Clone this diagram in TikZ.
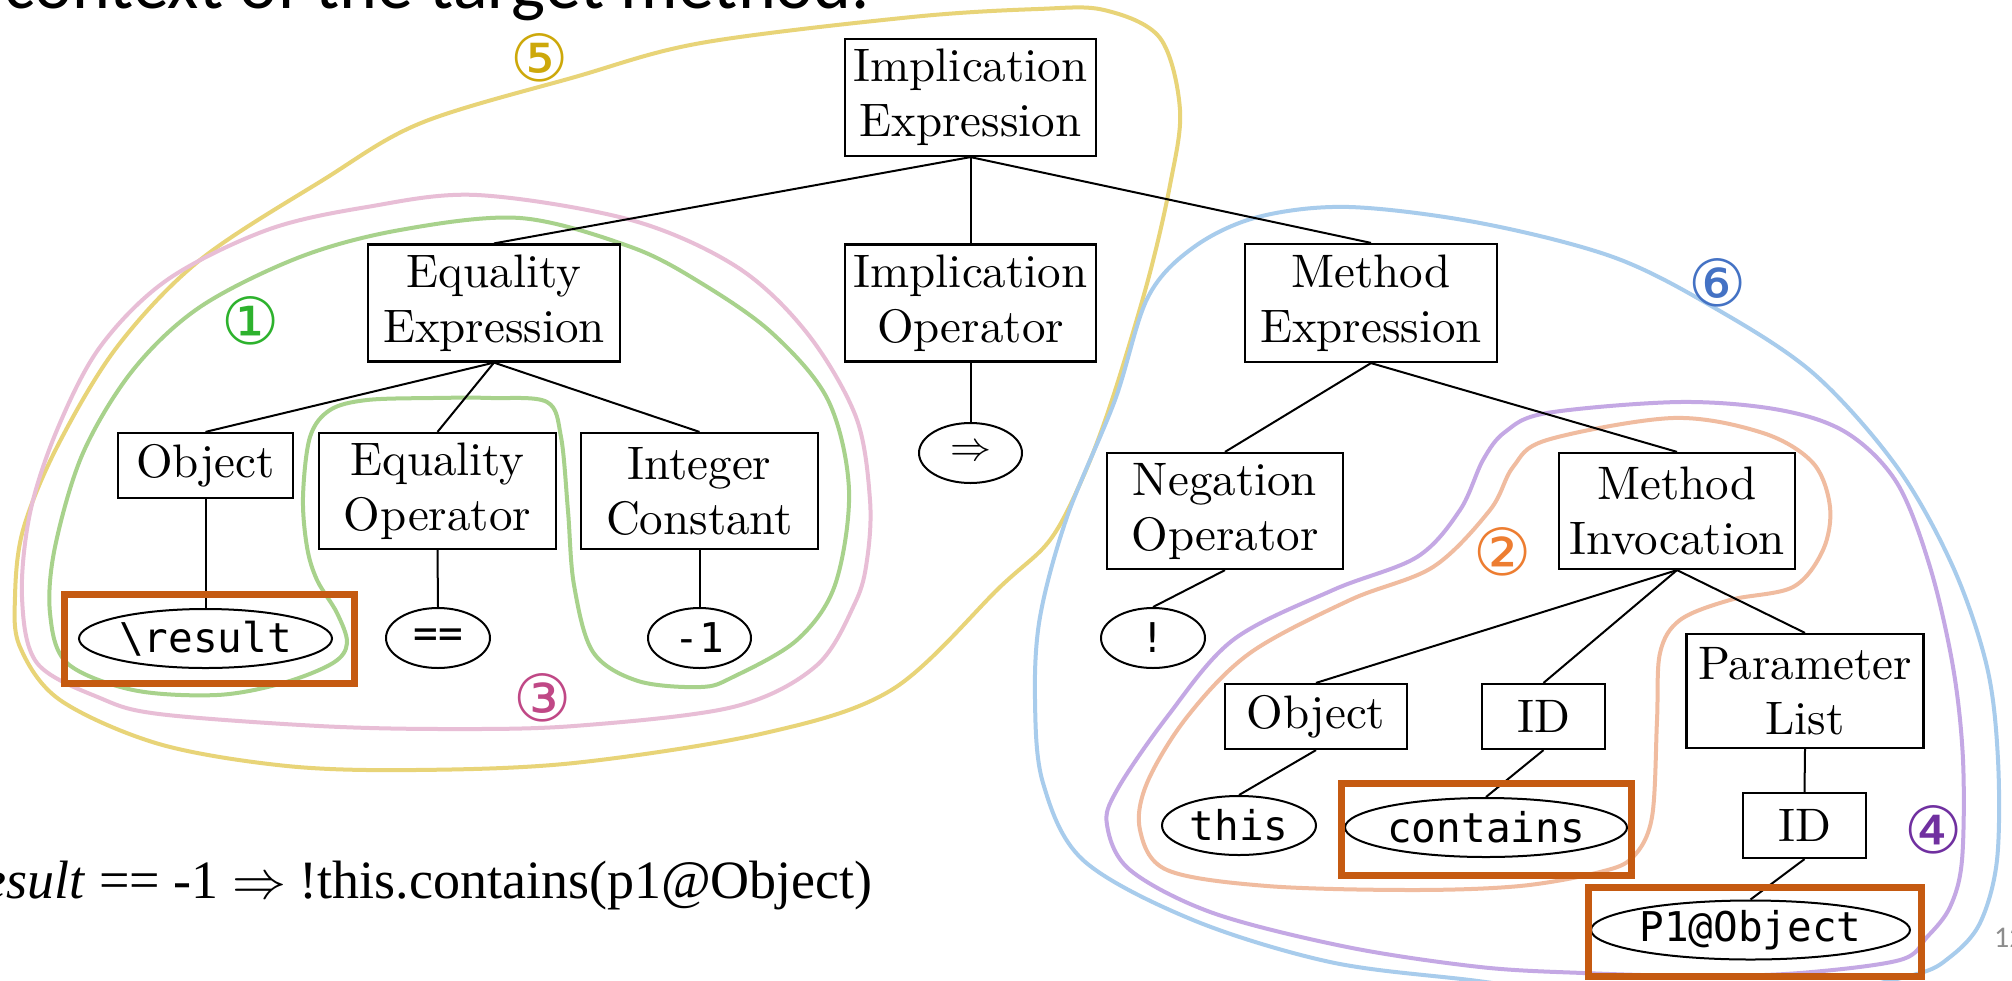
\documentclass[tikz,border=0pt]{standalone}
\usepackage{fix-cm}
\usepackage{fontspec}
\usetikzlibrary{shapes.geometric}
\newfontfamily\boxfont{lmroman10-regular.otf}
\newfontfamily\monofont{DejaVu Sans Mono}
\newfontfamily\circfont{DejaVu Sans}
\newfontfamily\titlefont{Carlito}
\newfontfamily\formulafont{Liberation Serif}
\definecolor{hYel}{RGB}{232,212,120}
\definecolor{hPink}{RGB}{232,190,214}
\definecolor{hGreen}{RGB}{168,210,140}
\definecolor{hSal}{RGB}{240,188,160}
\definecolor{hPur}{RGB}{196,168,228}
\definecolor{hBlue}{RGB}{168,204,236}
\definecolor{nYel}{RGB}{205,168,10}
\definecolor{nGreen}{RGB}{45,178,45}
\definecolor{nPink}{RGB}{192,72,134}
\definecolor{nBlue}{RGB}{68,114,196}
\definecolor{nOr}{RGB}{237,125,49}
\definecolor{nPur}{RGB}{112,48,160}
\definecolor{hlOr}{RGB}{197,90,17}
\definecolor{pgGray}{RGB}{140,140,140}
\tikzset{
  tbox/.style={draw, line width=2.2pt, fill=white, inner sep=0pt, align=center,
    font=\boxfont\fontsize{47}{55}\selectfont},
  tell/.style={draw, ellipse, line width=2pt, fill=white, inner sep=0pt,
    font=\monofont\fontsize{41}{41}\selectfont},
  treeline/.style={line width=2pt},
  hull/.style={line width=4pt, line join=round},
  hlbox/.style={draw=hlOr, line width=7pt},
  circnum/.style={font=\circfont\fontsize{65}{65}\selectfont, inner sep=0pt},
}
\begin{document}
\begin{tikzpicture}[x=1pt,y=-1pt]
\useasboundingbox (0,0) rectangle (2012,980);
\fill[white] (0,0) rectangle (2012,980);

% title and page number (cut by the page edge)
\node[anchor=base east, inner sep=0pt, font=\titlefont\fontsize{72}{72}\selectfont] (title) at (870,8) {context of the target method.};
\node[anchor=base west, inner sep=0pt, text=pgGray, font=\titlefont\fontsize{30}{30}\selectfont] (pageno) at (1994,947) {12};

% hulls
\draw[hull, draw=hYel] plot[smooth cycle, tension=0.55] coordinates {(1104,10) (1160,38) (1180,110) (1170,185) (1148,280) (1112,400) (1083,477) (1050,540) (1000,587) (893,689) (765,733) (574,763) (415,770) (287,766) (159,744) (60,700) (20,647) (15,597) (23,530) (57,447) (117,347) (200,260) (323,180) (421,123) (575,77) (701,43) (912,17) (1038,9)};
\draw[hull, draw=hPink] plot[smooth cycle, tension=0.55] coordinates {(477,195) (631,220) (737,267) (807,333) (856,417) (870,500) (867,560) (855,603) (816,666) (733,707) (574,726) (446,729) (319,726) (159,714) (100,698) (37,663) (22,597) (30,513) (57,430) (100,347) (167,280) (267,230) (367,207)};
\draw[hull, draw=hGreen] plot[smooth cycle, tension=0.55] coordinates {(520,218) (631,247) (701,283) (772,333) (828,400) (849,490) (835,585) (797,640) (733,677) (701,687) (638,681) (593,652) (574,585) (568,511) (561,437) (547,402) (491,398) (433,398) (367,400) (330,410) (310,437) (303,497) (307,547) (317,580) (337,613) (347,643) (333,663) (283,683) (217,695) (133,690) (67,663) (50,613) (55,547) (83,453) (133,370) (200,307) (300,257) (400,230)};
\draw[hull, draw=hBlue] plot[smooth cycle, tension=0.55] coordinates {(1349,207) (1480,223) (1613,257) (1713,307) (1813,373) (1897,467) (1953,567) (1987,667) (1998,760) (1997,860) (1980,923) (1950,957) (1913,975) (1800,995) (1600,995) (1470,980) (1330,962) (1193,920) (1083,860) (1043,783) (1035,700) (1040,617) (1067,517) (1115,400) (1148,297) (1194,247) (1258,217)};
\draw[hull, draw=hPur] plot[smooth cycle, tension=0.55] coordinates {(1680,402) (1780,410) (1847,433) (1897,483) (1930,567) (1953,667) (1963,760) (1962,860) (1950,907) (1927,937) (1900,960) (1800,973) (1700,976) (1583,973) (1480,967) (1347,947) (1213,913) (1130,870) (1107,825) (1117,790) (1167,717) (1233,640) (1333,590) (1417,557) (1460,510) (1483,460) (1505,432) (1547,413)};
\draw[hull, draw=hSal] plot[smooth cycle, tension=0.55] coordinates {(1673,418) (1763,433) (1813,463) (1830,507) (1823,550) (1793,587) (1730,600) (1680,620) (1660,653) (1657,720) (1652,817) (1633,857) (1600,872) (1520,886) (1413,890) (1267,886) (1167,870) (1140,830) (1147,783) (1187,717) (1250,653) (1350,600) (1433,567) (1490,510) (1513,467) (1547,440)};

% tree nodes
\node[tbox, minimum width=251pt, minimum height=117pt] (IE) at (970.5,97.5) {Implication\\Expression};
\node[tbox, minimum width=252pt, minimum height=117pt] (EE) at (494,303) {Equality\\Expression};
\node[tbox, minimum width=251pt, minimum height=117pt] (IO) at (970.5,303) {Implication\\Operator};
\node[tbox, minimum width=252pt, minimum height=118pt] (ME) at (1371,303) {Method\\Expression};
\node[tbox, minimum width=175pt, minimum height=65pt] (ObjA) at (205.5,465.5) {Object};
\node[tbox, minimum width=237pt, minimum height=116pt] (EO) at (437.5,491) {Equality\\Operator};
\node[tbox, minimum width=237pt, minimum height=116pt] (IC) at (699.5,491) {Integer\\Constant};
\node[tell, minimum width=103pt, minimum height=60pt] (impl) at (970.5,453) {$\Rightarrow$};
\node[tell, minimum width=253pt, minimum height=59pt] (res) at (205.5,638.5) {\textbackslash result};
\node[tell, minimum width=104pt, minimum height=60pt] (eq) at (438,638) {==};
\node[tell, minimum width=103pt, minimum height=60pt] (mone) at (699.5,638) {-1};
\node[tbox, minimum width=236pt, minimum height=116pt] (NO) at (1225,511) {Negation\\Operator};
\node[tbox, minimum width=236pt, minimum height=116pt] (MI) at (1677,511) {Method\\Invocation};
\node[tell, minimum width=104pt, minimum height=60pt] (bang) at (1153,638) {!};
\node[tbox, minimum width=182pt, minimum height=65pt] (ObjB) at (1316,716.5) {Object};
\node[tbox, minimum width=123pt, minimum height=65pt] (IDA) at (1543.5,716.5) {ID};
\node[tbox, minimum width=237pt, minimum height=114pt] (PL) at (1805,691) {Parameter\\List};
\node[tell, minimum width=154pt, minimum height=59pt] (this) at (1239,825.5) {this};
\node[tell, minimum width=282pt, minimum height=59pt] (cont) at (1486,827.5) {contains};
\node[tbox, minimum width=123pt, minimum height=65pt] (IDB) at (1804.5,825.5) {ID};
\node[tell, minimum width=319pt, minimum height=59pt] (pobj) at (1750.5,930) {P1@Object};

% tree edges
\draw[treeline] (IE.south) -- (EE.north);
\draw[treeline] (IE.south) -- (IO.north);
\draw[treeline] (IE.south) -- (ME.north);
\draw[treeline] (EE.south) -- (ObjA.north);
\draw[treeline] (EE.south) -- (EO.north);
\draw[treeline] (EE.south) -- (IC.north);
\draw[treeline] (IO.south) -- (impl.north);
\draw[treeline] (ObjA.south) -- (res.north);
\draw[treeline] (EO.south) -- (eq.north);
\draw[treeline] (IC.south) -- (mone.north);
\draw[treeline] (ME.south) -- (NO.north);
\draw[treeline] (ME.south) -- (MI.north);
\draw[treeline] (NO.south) -- (bang.north);
\draw[treeline] (MI.south) -- (ObjB.north);
\draw[treeline] (MI.south) -- (IDA.north);
\draw[treeline] (MI.south) -- (PL.north);
\draw[treeline] (ObjB.south) -- (this.north);
\draw[treeline] (IDA.south) -- (cont.north);
\draw[treeline] (PL.south) -- (IDB.north);
\draw[treeline] (IDB.south) -- (pobj.north);

% highlight boxes
\draw[hlbox] (64.5,594.5) rectangle (354.5,683.5);
\draw[hlbox] (1341,783) rectangle (1631,875);
\draw[hlbox] (1588,887) rectangle (1921,976);

% circled labels
\node[circnum, text=nYel] (l5) at (540,58) {⑤};
\node[circnum, text=nGreen] (l1) at (251,321) {①};
\node[circnum, text=nPink] (l3) at (543,698) {③};
\node[circnum, text=nBlue] (l6) at (1718,283) {⑥};
\node[circnum, text=nOr] (l2) at (1503,552) {②};
\node[circnum, text=nPur] (l4) at (1934,830) {④};

% formula (cut by the left edge)
\node[anchor=base east, inner sep=0pt, font=\formulafont\fontsize{54}{54}\selectfont] (formula) at (873,898) {\textit{\textbackslash result} == -1 $\Rightarrow$ !this.contains(p1@Object)};
\end{tikzpicture}
\end{document}
